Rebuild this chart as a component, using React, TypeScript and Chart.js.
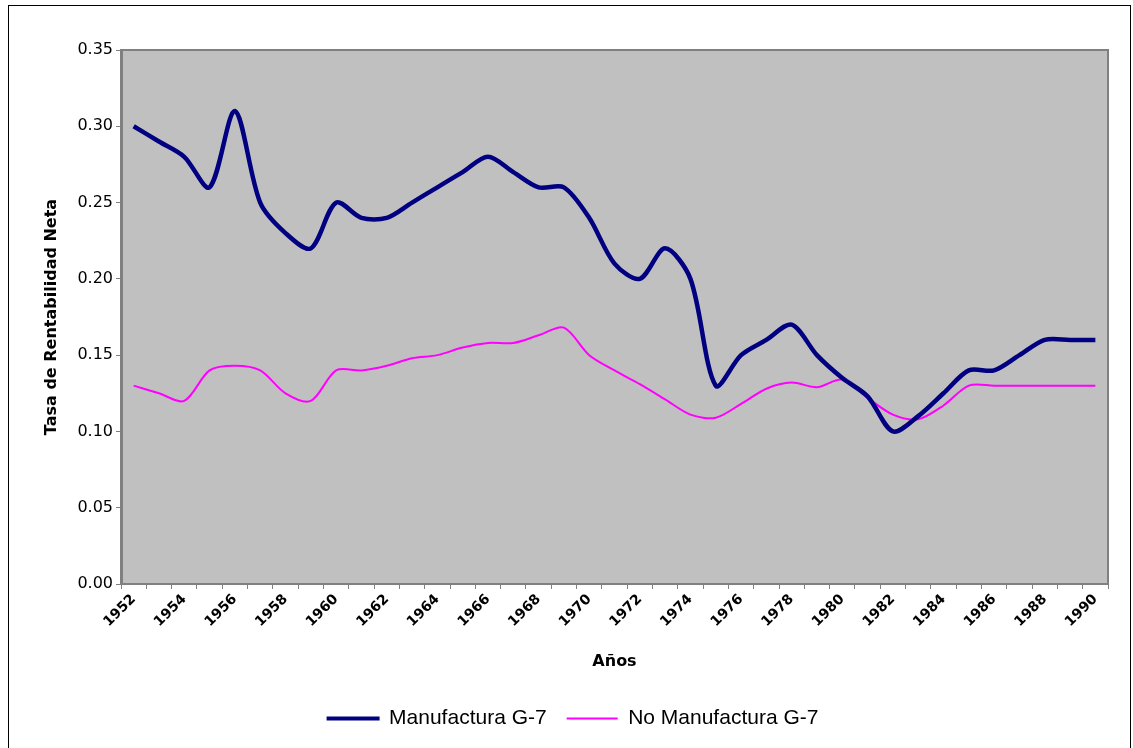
import React, { useEffect, useRef } from 'react';
import { Chart, registerables } from 'chart.js';

Chart.register(...registerables);

const years = [
  '1952', '1953', '1954', '1955', '1956', '1957', '1958', '1959', '1960', '1961',
  '1962', '1963', '1964', '1965', '1966', '1967', '1968', '1969', '1970', '1971',
  '1972', '1973', '1974', '1975', '1976', '1977', '1978', '1979', '1980', '1981',
  '1982', '1983', '1984', '1985', '1986', '1987', '1988', '1989', '1990',
];

const manufactura = [
  0.30, 0.29, 0.28, 0.26, 0.31, 0.25, 0.23, 0.22, 0.25, 0.24,
  0.24, 0.25, 0.26, 0.27, 0.28, 0.27, 0.26, 0.26, 0.24, 0.21,
  0.20, 0.22, 0.20, 0.13, 0.15, 0.16, 0.17, 0.15, 0.135, 0.123,
  0.10, 0.11, 0.125, 0.14, 0.14, 0.15, 0.16, 0.16, 0.16,
];

const noManufactura = [
  0.13, 0.125, 0.12, 0.14, 0.143, 0.14, 0.125, 0.12, 0.14, 0.14,
  0.143, 0.148, 0.15, 0.155, 0.158, 0.158, 0.163, 0.168, 0.15, 0.14,
  0.131, 0.121, 0.111, 0.109, 0.118, 0.128, 0.132, 0.129, 0.134, 0.122,
  0.111, 0.108, 0.117, 0.13, 0.13, 0.13, 0.13, 0.13, 0.13,
];

const seriesNames = ['Manufactura G-7', 'No Manufactura G-7'];
const yAxisTitle = 'Tasa de Rentabilidad Neta';
const xAxisTitle = 'Años';

const backgroundPlugin = {
  id: 'excelBackground',
  beforeDraw(chart: any) {
    const { ctx, chartArea: a, width, height } = chart;
    ctx.save();
    ctx.fillStyle = '#ffffff';
    ctx.fillRect(0, 0, width, height);
    ctx.strokeStyle = '#000000';
    ctx.lineWidth = 1;
    ctx.strokeRect(8.5, 5.5, 1122, 800);
    ctx.fillStyle = '#C0C0C0';
    ctx.fillRect(a.left, a.top, a.right - a.left, a.bottom - a.top);
    ctx.strokeStyle = '#808080';
    ctx.lineWidth = 2;
    ctx.beginPath();
    ctx.moveTo(a.left, a.top);
    ctx.lineTo(a.right, a.top);
    ctx.lineTo(a.right, a.bottom);
    ctx.stroke();
    ctx.restore();
  },
};

export default function App() {
  const canvasRef = useRef<HTMLCanvasElement | null>(null);

  useEffect(() => {
    if (!canvasRef.current) return;
    const chart = new Chart(canvasRef.current, {
      type: 'line',
      data: {
        labels: years,
        datasets: [
          {
            label: seriesNames[0],
            data: manufactura,
            borderColor: '#000080',
            backgroundColor: '#000080',
            borderWidth: 4.5,
            pointRadius: 0,
            tension: 0.3,
            fill: false,
          },
          {
            label: seriesNames[1],
            data: noManufactura,
            borderColor: '#FF00FF',
            backgroundColor: '#FF00FF',
            borderWidth: 2,
            pointRadius: 0,
            tension: 0.3,
            fill: false,
          },
        ],
      },
      options: {
        responsive: false,
        animation: false,
        devicePixelRatio: 1,
        layout: { padding: { left: 38, top: 50, right: 25, bottom: 9 } },
        plugins: {
          tooltip: { enabled: false },
          legend: {
            position: 'bottom',
            labels: {
              boxWidth: 51,
              boxHeight: 2,
              padding: 20,
              color: '#000000',
              font: { family: '"Liberation Sans", Arial, sans-serif', size: 21 },
              generateLabels(c: any) {
                return c.data.datasets.map((ds: any, i: number) => ({
                  text: ds.label,
                  fillStyle: ds.borderColor,
                  strokeStyle: ds.borderColor,
                  lineWidth: i === 0 ? 2 : 0,
                  hidden: false,
                  datasetIndex: i,
                  fontColor: '#000000',
                }));
              },
            },
          },
        },
        scales: {
          x: {
            type: 'category',
            offset: true,
            grid: {
              offset: true,
              drawOnChartArea: false,
              drawTicks: true,
              tickLength: 5,
              color: '#808080',
            },
            border: { display: true, color: '#808080', width: 2 },
            ticks: {
              autoSkip: false,
              minRotation: 45,
              maxRotation: 45,
              padding: 2,
              color: '#000000',
              font: { family: '"DejaVu Sans", sans-serif', size: 14, weight: 'bold' },
              callback: (_v: any, i: number) => (i % 2 === 0 ? years[i] : ''),
            },
            title: {
              display: true,
              text: xAxisTitle,
              color: '#000000',
              font: { family: '"DejaVu Sans", sans-serif', size: 16, weight: 'bold' },
              padding: { top: 0, bottom: 17 },
            },
            afterFit(scale: any) {
              scale.height = 104;
            },
          },
          y: {
            min: 0,
            max: 0.35,
            ticks: {
              stepSize: 0.05,
              padding: 3,
              color: '#000000',
              font: { family: '"DejaVu Sans", sans-serif', size: 16 },
              callback: (v: any) => Number(v).toFixed(2),
            },
            grid: {
              drawOnChartArea: false,
              drawTicks: true,
              tickLength: 5,
              color: '#808080',
            },
            border: { display: true, color: '#808080', width: 3 },
            title: {
              display: true,
              text: yAxisTitle,
              color: '#000000',
              font: { family: '"DejaVu Sans", sans-serif', size: 16, weight: 'bold' },
              padding: { top: 4, bottom: 4 },
            },
            afterFit(scale: any) {
              scale.width = 83;
            },
          },
        },
      },
      plugins: [backgroundPlugin],
    } as any);
    return () => chart.destroy();
  }, []);

  return (
    <div style={{ position: 'absolute', left: 0, top: 0, width: 1133, height: 748 }}>
      <canvas ref={canvasRef} width={1133} height={748} />
    </div>
  );
}
